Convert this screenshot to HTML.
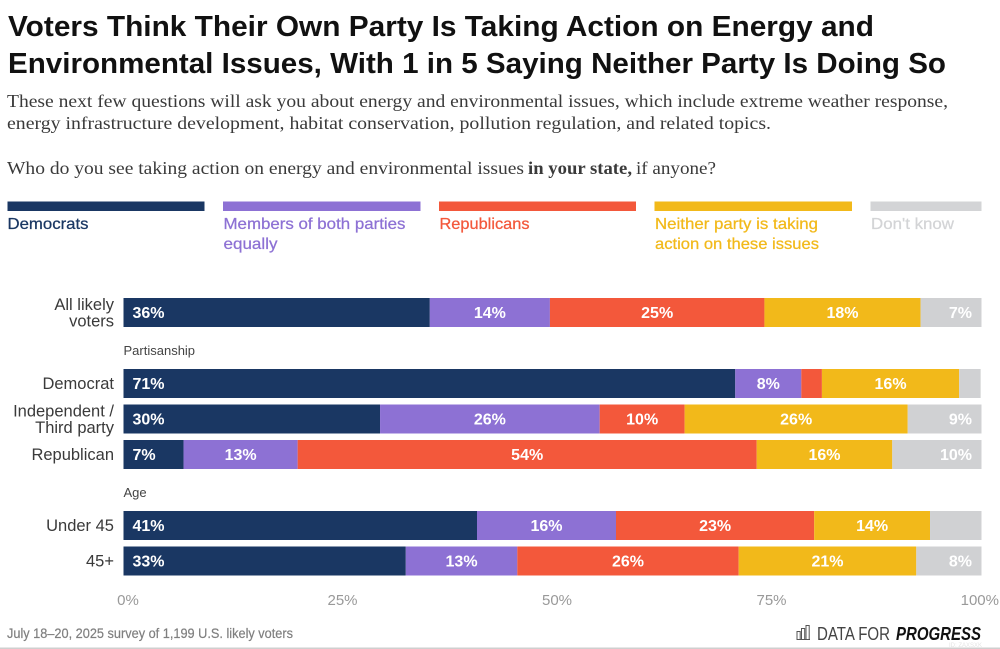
<!DOCTYPE html>
<html lang="en">
<head>
<meta charset="utf-8">
<title>Voters Think Their Own Party Is Taking Action on Energy and Environmental Issues</title>
<style>
html,body{margin:0;padding:0;background:#fff;width:1000px;height:649px;overflow:hidden}
svg{display:block;font-family:"Liberation Sans",Arial,sans-serif}
.serif{font-family:"Liberation Serif",Georgia,serif;font-size:17.5px;fill:#3a3a3a}
.legend-text{font-size:16px;stroke-width:.25px}
</style>
</head>
<body>
<svg id="chart" width="1000" height="649" viewBox="0 0 1000 649" xmlns="http://www.w3.org/2000/svg">
  <g font-weight="700" font-size="29" fill="#111">
    <text x="8" y="36" textLength="866" lengthAdjust="spacingAndGlyphs">Voters Think Their Own Party Is Taking Action on Energy and</text>
    <text x="8" y="73" textLength="938" lengthAdjust="spacingAndGlyphs">Environmental Issues, With 1 in 5 Saying Neither Party Is Doing So</text>
  </g>
  <g class="serif">
    <text class="serif" x="7" y="107" textLength="941" lengthAdjust="spacingAndGlyphs">These next few questions will ask you about energy and environmental issues, which include extreme weather response,</text>
    <text class="serif" x="7" y="129" textLength="764" lengthAdjust="spacingAndGlyphs">energy infrastructure development, habitat conservation, pollution regulation, and related topics.</text>
    <text class="serif" x="7" y="174" textLength="517" lengthAdjust="spacingAndGlyphs">Who do you see taking action on energy and environmental issues</text>
    <text class="serif" x="528" y="174" textLength="104" lengthAdjust="spacingAndGlyphs" font-weight="700" style="font-weight:700">in your state,</text>
    <text class="serif" x="636" y="174" textLength="80" lengthAdjust="spacingAndGlyphs">if anyone?</text>
  </g>

  <g>
    <g fill="#1a3763">
      <rect x="7.5" y="201.5" width="197" height="9.5"/>
      <text class="legend-text" stroke="#1a3763" x="7.5" y="229" textLength="81" lengthAdjust="spacingAndGlyphs">Democrats</text>
    </g>
    <g fill="#8d71d4">
      <rect x="223" y="201.5" width="197.5" height="9.5"/>
      <text class="legend-text" stroke="#8d71d4" x="223.5" y="229" textLength="182" lengthAdjust="spacingAndGlyphs">Members of both parties</text>
      <text class="legend-text" stroke="#8d71d4" x="223.5" y="249" textLength="54" lengthAdjust="spacingAndGlyphs">equally</text>
    </g>
    <g fill="#f3583b">
      <rect x="439" y="201.5" width="197" height="9.5"/>
      <text class="legend-text" stroke="#f3583b" x="439.5" y="229" textLength="90" lengthAdjust="spacingAndGlyphs">Republicans</text>
    </g>
    <g fill="#f2b91a">
      <rect x="654.5" y="201.5" width="197.5" height="9.5"/>
      <text class="legend-text" stroke="#f2b91a" x="655" y="229" textLength="163" lengthAdjust="spacingAndGlyphs">Neither party is taking</text>
      <text class="legend-text" stroke="#f2b91a" x="655" y="249" textLength="164" lengthAdjust="spacingAndGlyphs">action on these issues</text>
    </g>
    <g fill="#d3d4d6">
      <rect x="870.5" y="201.5" width="111" height="9.5"/>
      <text class="legend-text" stroke="#d3d4d6" x="871" y="229" textLength="83" lengthAdjust="spacingAndGlyphs">Don't know</text>
    </g>
  </g>

  <g id="plot"></g>
  <g id="x-axis"></g>

  <text x="7" y="638" font-size="13.5" font-weight="400" fill="#7f7f7f" stroke="#7f7f7f" stroke-width=".2" textLength="286" lengthAdjust="spacingAndGlyphs">July 18–20, 2025 survey of 1,199 U.S. likely voters</text>

  <g>
    <g fill="none" stroke="#555" stroke-width="1">
      <path d="M796.5 639.5h13.5"/>
      <rect x="797" y="631.5" width="3.2" height="8"/>
      <rect x="801.5" y="628.5" width="3.2" height="11"/>
      <rect x="806" y="625.5" width="3.2" height="14"/>
    </g>
    <text x="817" y="640" font-size="18" fill="#444" textLength="73" lengthAdjust="spacingAndGlyphs">DATA FOR</text>
    <text x="896" y="640" font-size="18" font-weight="700" font-style="italic" fill="#111" textLength="85" lengthAdjust="spacingAndGlyphs">PROGRESS</text>
  </g>
  <text x="949" y="647" font-size="6" fill="#e4e4e4">ID: ZAXSXK</text>
  <rect x="0" y="647.5" width="1000" height="1.5" fill="#cfcfcf"/>
</svg>

<script>
// Row slots, top to bottom. Entries with isHeader are group titles.
var categories = ['All likely voters', 'Partisanship', 'Democrat', 'Independent / Third party', 'Republican', 'Age', 'Under 45', '45+'];
var isHeader = [false, true, false, false, false, true, false, false];
var categoryLines = [['All likely', 'voters'], ['Partisanship'], ['Democrat'], ['Independent /', 'Third party'], ['Republican'], ['Age'], ['Under 45'], ['45+']];

// Percent shares (null = header slot).
var democrats   = [35.7, null, 71.3, 29.9,  7.0, null, 41.2, 32.9];
var bothParties = [14.0, null,  7.7, 25.6, 13.3, null, 16.2, 13.0];
var republicans = [25.0, null,  2.4,  9.9, 53.5, null, 23.1, 25.8];
var neither     = [18.2, null, 16.0, 26.0, 15.8, null, 13.5, 20.7];
var dontKnow    = [ 7.1, null,  2.5,  8.6, 10.4, null,  6.0,  7.6];

var seriesNames = ['democrats', 'both-parties', 'republicans', 'neither', 'dont-know'];
var seriesValues = [democrats, bothParties, republicans, neither, dontKnow];
var seriesColors = ['#1a3763', '#8d71d4', '#f3583b', '#f2b91a', '#d0d1d3'];

var tickValues = [0, 25, 50, 75, 100];
var tickLabels = ['0%', '25%', '50%', '75%', '100%'];

var SVG_NS = 'http://www.w3.org/2000/svg';
var plotLeft = 123.5, plotWidth = 858, plotTop = 298, slotStep = 35.5, barHeight = 29;
var minLabelShare = 6.5;

function xScale(v) { return plotLeft + v / 100 * plotWidth; }
function yScale(i) { return plotTop + i * slotStep; }

function makeText(parent, x, y, content, size, fill, anchor, weight) {
  var t = document.createElementNS(SVG_NS, 'text');
  t.setAttribute('x', x);
  t.setAttribute('y', y);
  t.setAttribute('font-size', size);
  t.setAttribute('fill', fill);
  t.setAttribute('text-anchor', anchor);
  if (weight) t.setAttribute('font-weight', weight);
  t.textContent = content;
  parent.appendChild(t);
  return t;
}

var plot = document.getElementById('plot');

categories.forEach(function (cat, i) {
  var slug = cat.toLowerCase().replace(/[^a-z0-9]+/g, '-').replace(/-$/, '');
  var top = yScale(i);
  var center = top + barHeight / 2;

  if (isHeader[i]) {
    var h = makeText(plot, plotLeft, center + 7, categoryLines[i][0], 13, '#444', 'start');
    
    
    return;
  }

  var row = document.createElementNS(SVG_NS, 'g');
  
  
  plot.appendChild(row);

  var lines = categoryLines[i];
  lines.forEach(function (line, k) {
    var baseline = lines.length === 1 ? center + 5.5 : center + (k === 0 ? -2.5 : 14);
    var lab = makeText(row, 114, baseline, line, 16.5, '#3a3a3a', 'end');
    
    
  });

  var cumulative = 0;
  seriesValues.forEach(function (values, s) {
    var v = values[i];
    var x0 = xScale(cumulative);
    var x1 = xScale(cumulative + v);
    cumulative += v;

    var bar = document.createElementNS(SVG_NS, 'rect');
    bar.setAttribute('x', x0);
    bar.setAttribute('y', top);
    bar.setAttribute('width', x1 - x0);
    bar.setAttribute('height', barHeight);
    bar.setAttribute('fill', seriesColors[s]);
    
    
    row.appendChild(bar);

    if (v >= minLabelShare) {
      var lx = (x0 + x1) / 2, anchor = 'middle';
      if (s === 0) { lx = x0 + 9; anchor = 'start'; }
      if (s === seriesValues.length - 1) { lx = x1 - 9.5; anchor = 'end'; }
      var val = makeText(row, lx, center + 5.5, Math.round(v) + '%', 16, '#fff', anchor, '700');
      
      
    }
  });
});

var axis = document.getElementById('x-axis');
tickValues.forEach(function (tick, i) {
  var last = i === tickValues.length - 1;
  var x = last ? xScale(tick) + 17.5 : xScale(tick) + 4.5;
  var t = makeText(axis, x, 605, tickLabels[i], 15, '#999', last ? 'end' : 'middle');
  
  
});
</script>
</body>
</html>
